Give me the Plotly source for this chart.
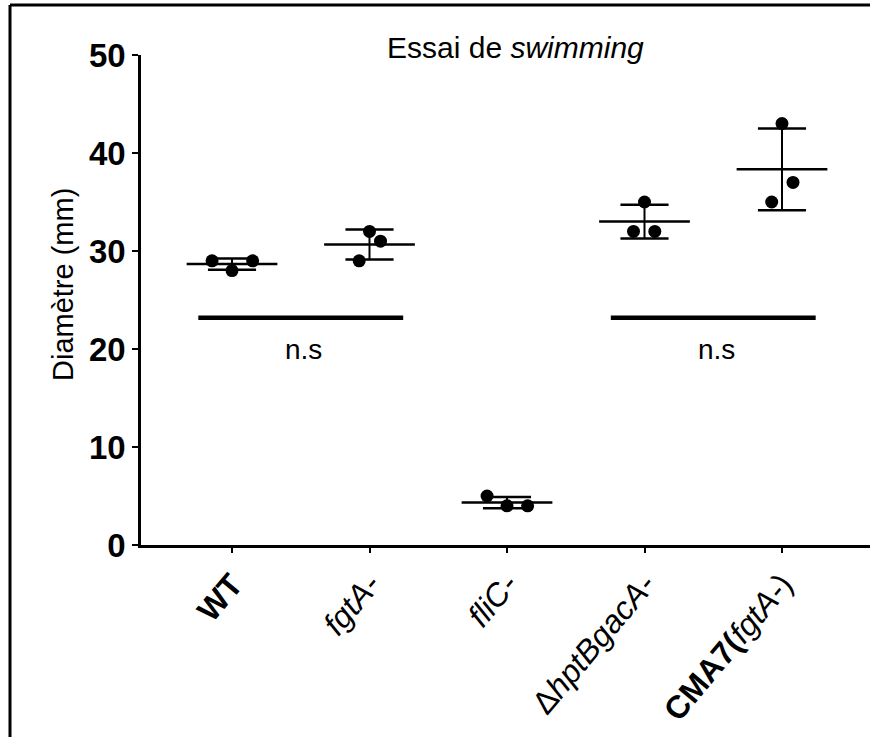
import numpy as np
import plotly.graph_objects as go

# ---- data ----
categories = ["WT", "fgtA-", "fliC-", "ΔhptBgacA-", "CMA7(fgtA-)"]
tick_labels = ["<b>WT</b>", "<i>fgtA-</i>", "<i>fliC-</i>", "Δ<i>hptBgacA-</i>",
               "<b>CMA7(</b><i>fgtA-</i>)"]
wt = [29, 28, 29]
fgta = [29, 32, 31]
flic = [5, 4, 4]
hptb = [32, 35, 32]
cma7 = [35, 43, 37]
groups = [wt, fgta, flic, hptb, cma7]
# horizontal scatter spread of the replicate dots (category units)
jitter = [[-0.145, 0.0, 0.15], [-0.075, 0.0, 0.08], [-0.145, 0.0, 0.15],
          [-0.08, 0.0, 0.075], [-0.075, 0.0, 0.08]]
sig_pairs = [(0, 1), (3, 4)]
sig_y = 23.2
sig_text_y = 20.0
sig_label = "n.s"
title_text = "Essai de <i>swimming</i>"
y_title = "Diamètre (mm)"
y_ticks = [0, 10, 20, 30, 40, 50]

FONT = "Arial, Liberation Sans, sans-serif"
fig = go.Figure()

mean_hw = 0.33
cap_hw = 0.175
for i, vals in enumerate(groups):
    v = np.array(vals, dtype=float)
    m = v.mean()
    sd = v.std(ddof=1)
    # mean line
    fig.add_trace(go.Scatter(x=[i - mean_hw, i + mean_hw], y=[m, m], mode="lines",
                             line=dict(color="black", width=2.5), hoverinfo="skip"))
    # SD whisker
    fig.add_trace(go.Scatter(x=[i, i], y=[m - sd, m + sd], mode="lines",
                             line=dict(color="black", width=2), hoverinfo="skip"))
    for c in (m - sd, m + sd):
        fig.add_trace(go.Scatter(x=[i - cap_hw, i + cap_hw], y=[c, c], mode="lines",
                                 line=dict(color="black", width=2.5), hoverinfo="skip"))
    # replicate dots
    fig.add_trace(go.Scatter(x=[i + j for j in jitter[i]], y=vals, mode="markers",
                             marker=dict(color="black", size=13), name=categories[i]))

pad = 0.245
for a, b in sig_pairs:
    fig.add_trace(go.Scatter(x=[a - pad, b + pad], y=[sig_y, sig_y], mode="lines",
                             line=dict(color="black", width=4.5), hoverinfo="skip"))
    fig.add_annotation(x=(a + b) / 2 + 0.02, y=sig_text_y, text=sig_label, showarrow=False,
                       xref="x", yref="y", font=dict(size=28, color="black", family=FONT))

W, H = 870, 737
L, T, PW, PH = 141, 55, 729, 490
px_per_cat = 137.5
xmin = (L - 232) / px_per_cat
xmax = xmin + PW / px_per_cat

fig.add_annotation(x=(515 - L) / PW, y=1 + (T - 47) / PH, xref="paper", yref="paper",
                   text=title_text, showarrow=False, yanchor="middle", xanchor="center",
                   font=dict(size=30, color="black", family=FONT))
fig.add_annotation(x=(63 - L) / PW, y=(545 - 285) / PH, xref="paper", yref="paper",
                   text=y_title, showarrow=False, textangle=-90, xanchor="center",
                   yanchor="middle", font=dict(size=29, color="black", family=FONT))

# frame lines (left and top)
fx = (10 - L) / PW
fy = 1 + (T - 5) / PH
fig.add_shape(type="line", xref="paper", yref="paper", x0=fx, x1=fx, y0=-1, y1=fy,
              line=dict(color="black", width=3))
fig.add_shape(type="line", xref="paper", yref="paper", x0=fx, x1=2, y0=fy, y1=fy,
              line=dict(color="black", width=3))

fig.update_layout(
    width=W, height=H,
    margin=dict(l=L, r=W - L - PW, t=T, b=H - T - PH, pad=0),
    paper_bgcolor="white", plot_bgcolor="white",
    showlegend=False,
    font=dict(family=FONT, color="black"),
    xaxis=dict(range=[xmin, xmax], tickvals=list(range(len(categories))), ticktext=tick_labels,
               tickangle=-50, showline=True, linecolor="black", linewidth=2.5,
               ticks="outside", ticklen=5, tickwidth=2, tickcolor="black",
               showgrid=False, zeroline=False, tickfont=dict(size=32, family=FONT)),
    yaxis=dict(range=[0, 50], tickvals=y_ticks, showline=True, linecolor="black",
               linewidth=2.5, ticks="outside", ticklen=6, tickwidth=2, tickcolor="black",
               showgrid=False, zeroline=False,
               tickfont=dict(size=33, family=FONT, weight="bold")),
)
fig.write_html("out.html")
